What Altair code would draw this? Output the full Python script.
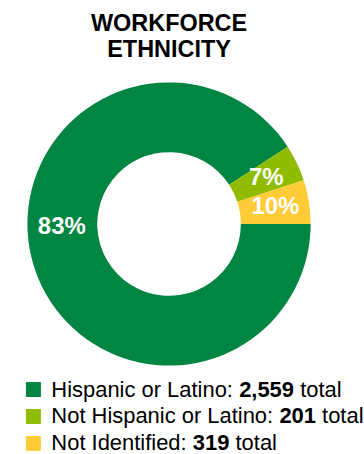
import math
import altair as alt
import pandas as pd

# ---- data ----
categories = ["Hispanic or Latino", "Not Hispanic or Latino", "Not Identified"]
totals = [2559, 201, 319]
pct_labels = ["83%", "7%", "10%"]
# share of the ring each slice occupies as drawn in the picture
arc_share = [90.8, 4.2, 5.0]
colors = ["#008542", "#8fbc00", "#ffcb37"]
title_lines = ["WORKFORCE", "ETHNICITY"]

FONT = "Liberation Sans"
LEG_SIZE = 22

# Helvetica/Arial advance widths (1/1000 em) used to place mixed-weight legend text
REG = {" ": 278, ",": 278, ":": 278, "%": 889, "H": 722, "I": 278, "L": 556, "N": 722,
       "a": 556, "c": 500, "d": 556, "e": 556, "f": 278, "i": 222, "l": 222, "n": 556,
       "o": 556, "p": 556, "r": 333, "s": 500, "t": 278}
BOLD = {",": 278, " ": 278}


def text_width(s, bold=False, size=LEG_SIZE):
    tbl = BOLD if bold else REG
    return sum(tbl.get(ch, 556) for ch in s) * size / 1000.0


df = pd.DataFrame({
    "category": categories,
    "arc_share": arc_share,
    "pct": pct_labels,
    "idx": list(range(len(categories))),
})

TEXT_X = 51.5
leg = pd.DataFrame({
    "category": categories,
    "prefix": [c + ":" for c in categories],
    "num": [f"{t:,}" for t in totals],
})
leg["x_num"] = [TEXT_X + text_width(p + " ") for p in leg["prefix"]]
leg["x_suf"] = [xn + text_width(n, bold=True) + text_width(" ") for xn, n in zip(leg["x_num"], leg["num"])]
leg["suffix"] = "total"

color_scale = alt.Scale(domain=categories, range=colors)

base = alt.Chart(df).encode(
    theta=alt.Theta("arc_share:Q", stack=True,
                    scale=alt.Scale(range=[math.pi / 2, math.pi / 2 + 2 * math.pi])),
    order=alt.Order("idx:Q"),
)

arcs = base.mark_arc(innerRadius=72, outerRadius=142).encode(
    color=alt.Color("category:N", scale=color_scale, legend=None)
)
small_labels = base.mark_text(radius=108, fontSize=24, fontWeight="bold", font=FONT,
                              color="white").encode(
    text="pct:N",
    opacity=alt.condition(alt.datum.idx == 0, alt.value(0), alt.value(1)),
)
big_label = base.transform_filter(alt.datum.idx == 0).mark_text(
    radius=107, dx=-5, dy=-27, fontSize=24, fontWeight="bold", font=FONT, color="white"
).encode(text="pct:N")

donut = alt.layer(arcs, small_labels, big_label).properties(
    width=339, height=290,
    title=alt.TitleParams(title_lines, font=FONT, fontSize=23.5, fontWeight="bold",
                          color="black", anchor="middle", lineHeight=26, offset=18),
)

yenc = alt.Y("category:N", sort=categories,
             scale=alt.Scale(type="point", domain=categories, padding=0.296), axis=None)
xscale = alt.Scale(domain=[0, 364], nice=False, zero=False)

lbase = alt.Chart(leg)
squares = lbase.mark_square(size=225, opacity=1).encode(
    x=alt.value(33.5), y=yenc,
    color=alt.Color("category:N", scale=color_scale, legend=None),
)
t_pre = lbase.mark_text(align="left", fontSize=LEG_SIZE, font=FONT, color="black").encode(
    x=alt.value(TEXT_X), y=yenc, text="prefix:N")
t_num = lbase.mark_text(align="left", fontSize=LEG_SIZE, font=FONT, fontWeight="bold",
                        color="black").encode(
    x=alt.X("x_num:Q", scale=xscale, axis=None), y=yenc, text="num:N")
t_suf = lbase.mark_text(align="left", fontSize=LEG_SIZE, font=FONT, color="black").encode(
    x=alt.X("x_suf:Q", scale=xscale, axis=None), y=yenc, text="suffix:N")

legend = alt.layer(squares, t_pre, t_num, t_suf).properties(width=364, height=70)

chart = alt.vconcat(donut, legend, spacing=9).properties(
    padding={"left": 0, "top": 11, "right": 0, "bottom": 0},
    background="white",
).configure_view(stroke=None)

chart.save("out.html", embed_options={"renderer": "svg", "actions": False})
